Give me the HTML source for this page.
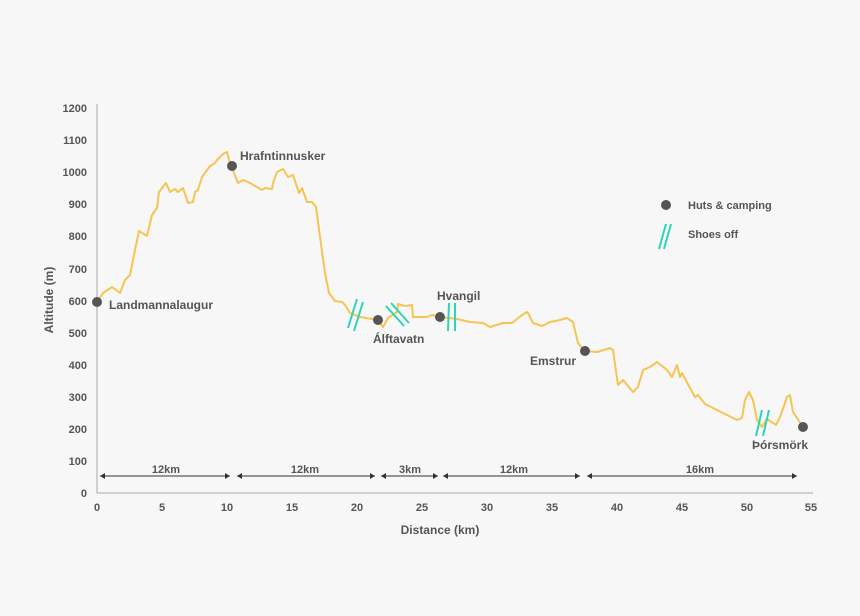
<!DOCTYPE html>
<html><head><meta charset="utf-8"><style>
body{margin:0;background:#f7f7f7;}
svg{display:block;font-family:"Liberation Sans",sans-serif;font-weight:bold;}
</style></head><body>
<svg width="860" height="616" viewBox="0 0 860 616">
<rect width="860" height="616" fill="#f7f7f7"/>
<g stroke="#aaa" stroke-width="1">
<line x1="97" y1="104" x2="97" y2="493"/>
<line x1="97" y1="493" x2="813" y2="493"/>
</g>
<g fill="#555" font-size="11" text-anchor="end">
<text x="87" y="112">1200</text><text x="87" y="144">1100</text><text x="87" y="176">1000</text>
<text x="87" y="208">900</text><text x="87" y="240">800</text><text x="87" y="273">700</text>
<text x="87" y="305">600</text><text x="87" y="337">500</text><text x="87" y="369">400</text>
<text x="87" y="401">300</text><text x="87" y="433">200</text><text x="87" y="465">100</text>
<text x="87" y="497">0</text>
</g>
<g fill="#555" font-size="11" text-anchor="middle">
<text x="97" y="511">0</text><text x="162" y="511">5</text><text x="227" y="511">10</text>
<text x="292" y="511">15</text><text x="357" y="511">20</text><text x="422" y="511">25</text>
<text x="487" y="511">30</text><text x="552" y="511">35</text><text x="617" y="511">40</text>
<text x="682" y="511">45</text><text x="747" y="511">50</text><text x="811" y="511">55</text>
<text x="440" y="534" font-size="12">Distance (km)</text>
<text transform="translate(53,300) rotate(-90)" font-size="12">Altitude (m)</text>
</g>
<polyline fill="none" stroke="#f6c453" stroke-width="2" stroke-linejoin="round" points="97,302 103,293 112,287 120,293 125,280 130,275 135,250 139,231 147,236 152,215 157,208 159,192 166,183 170,192 175,189 178,192 183,188 188,203 193,202 195,192 198,190 202,177 210,166 215,163 217,160 223,154 227,152 229,160 234,173 238,183 243,180 250,183 262,190 265,188 272,189 273,183 277,172 283,169 288,177 293,175 299,193 302,188 307,202 312,202 316,207 320,237 325,273 329,293 335,301 342,302 345,305 350,313 360,317 378,320 383,327 388,318 397,312 398,304 405,306 412,305 413,317 427,317 432,315 440,317 457,319 470,322 483,323 490,327 503,323 512,323 522,315 527,312 528,313 533,323 542,326 550,322 560,320 567,318 573,322 578,343 585,351 597,352 610,348 613,350 618,385 623,380 633,392 638,387 643,370 650,367 657,362 667,370 672,377 677,365 680,377 682,373 690,388 695,397 698,395 705,404 717,410 727,415 737,420 742,418 745,400 749,392 753,400 757,420 762,427 767,419 776,425 780,417 787,397 790,395 793,412 797,418 803,427"/>
<g stroke="#2fd3b8" stroke-width="2" fill="none">
<line x1="348" y1="328" x2="357" y2="299"/><line x1="354" y1="331" x2="363" y2="302"/>
<line x1="386" y1="306" x2="404" y2="326"/><line x1="391" y1="303" x2="409" y2="323"/>
<line x1="449" y1="303" x2="448" y2="331"/><line x1="455" y1="303" x2="455" y2="331"/>
<line x1="756" y1="436" x2="762" y2="410"/><line x1="763" y1="436" x2="769" y2="410"/>
<line x1="659" y1="249" x2="666" y2="224"/><line x1="664" y1="249" x2="671" y2="224"/>
</g>
<g fill="#555">
<circle cx="97" cy="302" r="5"/><circle cx="232" cy="166" r="5"/><circle cx="378" cy="320" r="5"/>
<circle cx="440" cy="317" r="5"/><circle cx="585" cy="351" r="5"/><circle cx="803" cy="427" r="5"/>
<circle cx="666" cy="205" r="5"/>
</g>
<g fill="#555" font-size="12">
<text x="109" y="309">Landmannalaugur</text>
<text x="240" y="160">Hrafntinnusker</text>
<text x="373" y="343">Álftavatn</text>
<text x="437" y="300">Hvangil</text>
<text x="530" y="365">Emstrur</text>
<text x="752" y="449">Þórsmörk</text>
<text x="688" y="209" font-size="11">Huts &amp; camping</text>
<text x="688" y="238" font-size="11">Shoes off</text>
</g>
<g stroke="#333" stroke-width="1" fill="#333">
<line x1="100" y1="476" x2="230" y2="476"/><line x1="237" y1="476" x2="375" y2="476"/>
<line x1="381" y1="476" x2="438" y2="476"/><line x1="443" y1="476" x2="580" y2="476"/>
<line x1="587" y1="476" x2="797" y2="476"/>
</g>
<g fill="#333">
<path d="M100,476 l5,-3 v6z M230,476 l-5,-3 v6z M237,476 l5,-3 v6z M375,476 l-5,-3 v6z M381,476 l5,-3 v6z M438,476 l-5,-3 v6z M443,476 l5,-3 v6z M580,476 l-5,-3 v6z M587,476 l5,-3 v6z M797,476 l-5,-3 v6z"/>
</g>
<g fill="#555" font-size="11" text-anchor="middle">
<rect x="146" y="462" width="40" height="12" fill="#f7f7f7"/>
<rect x="285" y="462" width="40" height="12" fill="#f7f7f7"/>
<rect x="395" y="462" width="30" height="12" fill="#f7f7f7"/>
<rect x="494" y="462" width="40" height="12" fill="#f7f7f7"/>
<rect x="680" y="462" width="40" height="12" fill="#f7f7f7"/>
<text x="166" y="473">12km</text><text x="305" y="473">12km</text><text x="410" y="473">3km</text>
<text x="514" y="473">12km</text><text x="700" y="473">16km</text>
</g>
</svg>
</body></html>
